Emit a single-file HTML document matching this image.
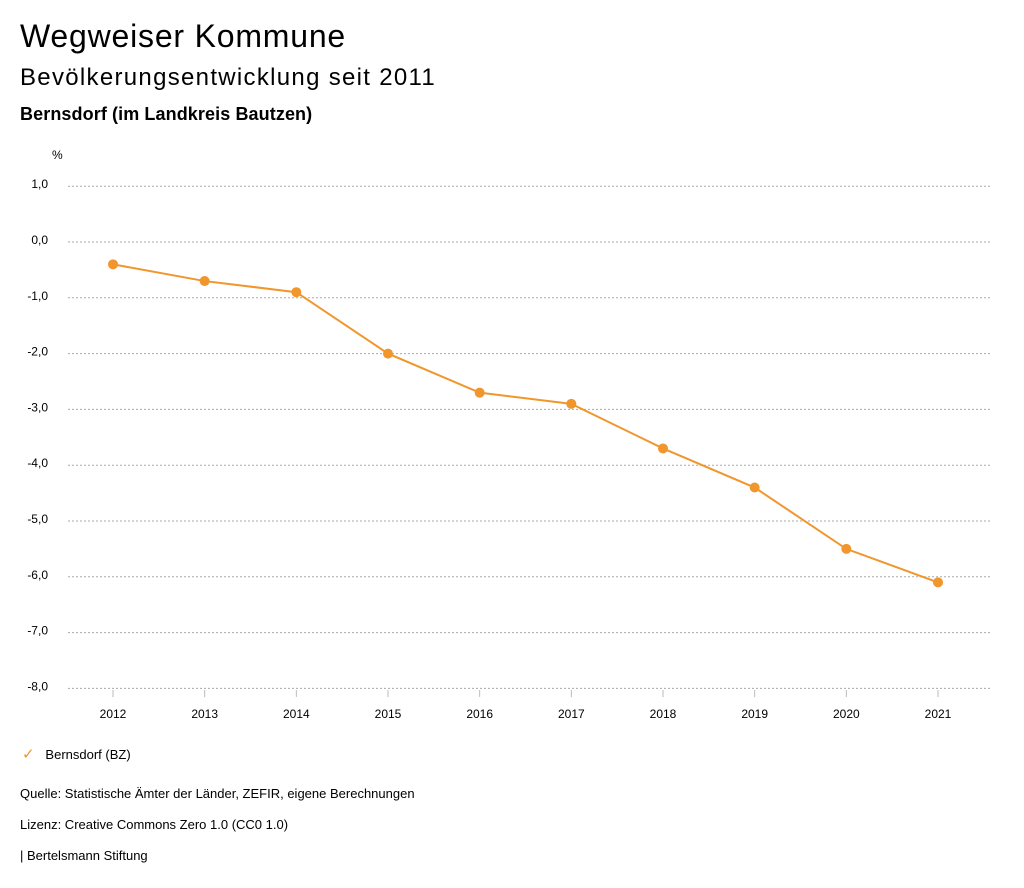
<!DOCTYPE html>
<html><head><meta charset="utf-8"><style>
body{margin:0;background:#fff;font-family:"Liberation Sans","DejaVu Sans",sans-serif;color:#000}
.t{position:absolute;white-space:nowrap}
</style></head><body>
<div style="position:relative;width:1024px;height:888px">
<div class="t" style="left:20px;top:18px;font-size:32px;letter-spacing:0.8px">Wegweiser Kommune</div>
<div class="t" style="left:20px;top:64px;font-size:24px;letter-spacing:1.3px">Bevölkerungsentwicklung seit 2011</div>
<div class="t" style="left:20px;top:104px;font-size:18px;font-weight:bold;letter-spacing:0.1px">Bernsdorf (im Landkreis Bautzen)</div>
<svg id="chart" style="position:absolute;left:0;top:0" width="1024" height="888"></svg>
<div class="t" style="left:22px;top:745px;font-size:13px"><span style="color:#f0962d;font-size:15px">✓</span>&nbsp;&nbsp;&nbsp;Bernsdorf (BZ)</div>
<div class="t" style="left:20px;top:786px;font-size:13px">Quelle: Statistische Ämter der Länder, ZEFIR, eigene Berechnungen</div>
<div class="t" style="left:20px;top:817px;font-size:13px">Lizenz: Creative Commons Zero 1.0 (CC0 1.0)</div>
<div class="t" style="left:20px;top:848px;font-size:13px">| Bertelsmann Stiftung</div>
</div>
<script>
const years=["2012","2013","2014","2015","2016","2017","2018","2019","2020","2021"];
const values=[-0.4,-0.7,-0.9,-2.0,-2.7,-2.9,-3.7,-4.4,-5.5,-6.1];
const yTicks=[1,0,-1,-2,-3,-4,-5,-6,-7,-8];
const ns="http://www.w3.org/2000/svg",svg=document.getElementById("chart");
const y=v=>242-v*55.8;
const x=i=>113+i*(938-113)/(years.length-1);
function mk(t,a){const e=document.createElementNS(ns,t);for(const k in a)e.setAttribute(k,a[k]);svg.appendChild(e);return e;}
let u=mk("text",{x:52,y:159,"font-size":12,"font-family":"Liberation Sans,sans-serif"});u.textContent="%";


yTicks.forEach(v=>{
 const l=mk("line",{x1:68,x2:990,y1:y(v),y2:y(v),stroke:"#aaa","stroke-dasharray":"2,2"});
 
 
 const t=mk("text",{x:48,y:y(v)+2,"font-size":12,"text-anchor":"end","font-family":"Liberation Sans,sans-serif"});
 t.textContent=v.toFixed(1).replace(".",",");
 
 
});
years.forEach((yr,i)=>{
 const l=mk("line",{x1:x(i),x2:x(i),y1:690,y2:697,stroke:"#bbb"});
 
 
 const t=mk("text",{x:x(i),y:718,"font-size":12,"text-anchor":"middle","font-family":"Liberation Sans,sans-serif"});
 t.textContent=yr;
 
 
});
const p=mk("polyline",{points:values.map((v,i)=>x(i)+","+y(v)).join(" "),fill:"none",stroke:"#f0962d","stroke-width":2});


values.forEach((v,i)=>{
 const c=mk("circle",{cx:x(i),cy:y(v),r:5,fill:"#f0962d"});
 
 
});
</script>
</body></html>
